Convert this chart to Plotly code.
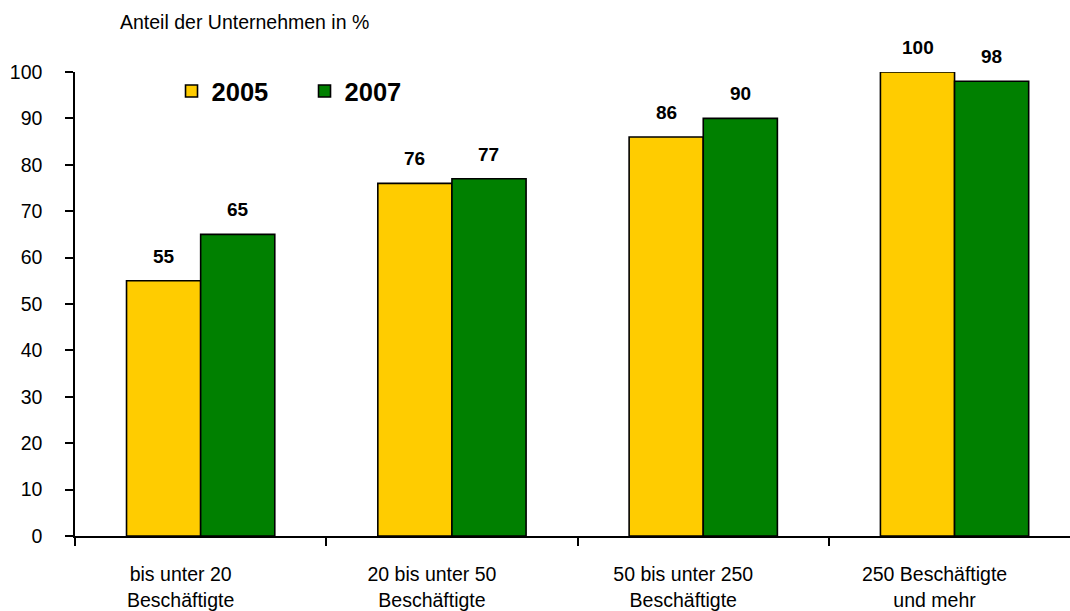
import plotly.graph_objects as go

categories = ["bis unter 20<br>Beschäftigte", "20 bis unter 50<br>Beschäftigte",
              "50 bis unter 250<br>Beschäftigte", "250 Beschäftigte<br>und mehr"]
values_2005 = [55, 76, 86, 100]
values_2007 = [65, 77, 90, 98]
series_names = ["2005", "2007"]
colors = ["#FFCC00", "#008000"]

FONT = "Liberation Sans, Arial, sans-serif"

fig = go.Figure()
for name, vals, col in zip(series_names, [values_2005, values_2007], colors):
    fig.add_trace(go.Bar(
        x=categories, y=vals, name=name,
        marker=dict(color=col, line=dict(color="black", width=1.6)),
    ))

# value labels above bars
for i, vals in enumerate([values_2005, values_2007]):
    shift = -37 if i == 0 else 37
    for c, v in zip(categories, vals):
        fig.add_annotation(x=c, y=v, xref="x", yref="y", text=f"<b>{v}</b>",
                           showarrow=False, xshift=shift, yshift=12, yanchor="bottom",
                           font=dict(family=FONT, size=19, color="black"))

fig.add_annotation(x=(118 - 75) / 995, y=1 + (72 - 22) / 464, xref="paper", yref="paper",
                   xanchor="left", yanchor="middle", text="Anteil der Unternehmen in %",
                   showarrow=False, font=dict(size=19.5, family=FONT, color="black"))

fig.update_layout(
    width=1070, height=611,
    margin=dict(l=75, r=0, t=72, b=75),
    paper_bgcolor="white", plot_bgcolor="white",
    barmode="group", bargap=0.41, bargroupgap=0,
    font=dict(family=FONT, size=19, color="black"),
    showlegend=True,
    legend=dict(orientation="h", x=0.097, y=0.958, xanchor="left", yanchor="middle",
                font=dict(size=25.5, family=FONT, weight="bold"),
                bgcolor="rgba(0,0,0,0)", itemwidth=30, entrywidth=88, entrywidthmode="pixels"),
)

fig.update_xaxes(range=[-0.5, -0.5 + 995 / 251.3], showline=True, linecolor="black", linewidth=1.5,
                 ticks="outside", tickson="boundaries", ticklen=8, tickcolor="black", tickwidth=1.5,
                 ticklabelshift=-20, ticklabelstandoff=20, tickfont=dict(size=19.5),
                 showgrid=False, fixedrange=True)
fig.update_yaxes(range=[0, 100], dtick=10, showline=True, linecolor="black", linewidth=1.5,
                 ticks="outside", ticklen=8, tickcolor="black", tickwidth=1.5,
                 ticklabelstandoff=19, showgrid=False, zeroline=False, tickfont=dict(size=19.5),
                 fixedrange=True)

fig.write_html("out.html", config={"displayModeBar": False},
               post_script="document.body.style.margin='0';")
